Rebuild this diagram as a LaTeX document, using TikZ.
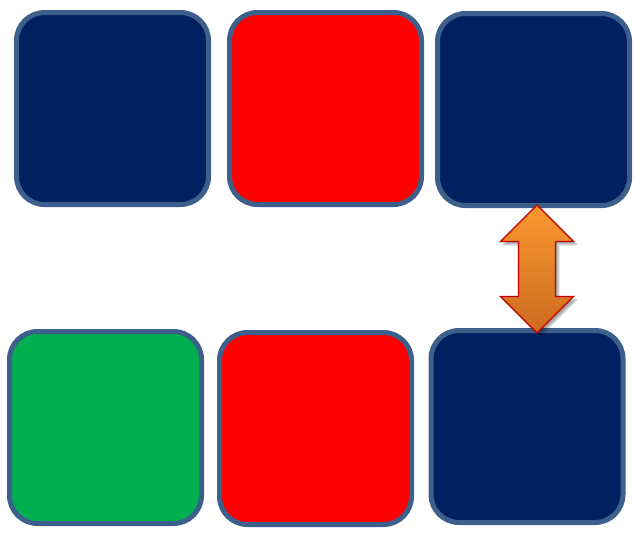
\documentclass[tikz,border=0pt]{standalone}
\usetikzlibrary{shadows.blur}
\definecolor{navy}{HTML}{002060}
\definecolor{bred}{HTML}{FF0000}
\definecolor{bgreen}{HTML}{00B050}
\definecolor{bordr}{HTML}{3D5F8B}
\definecolor{arrtop}{HTML}{FA9830}
\definecolor{arrbot}{HTML}{CD6A1F}
\definecolor{arrline}{HTML}{C00000}
\tikzset{
  tile/.style={draw=bordr, line width=5pt, rounded corners=28pt, minimum width=192pt, minimum height=192pt, inner sep=0pt},
  arrowshape/.style={draw=arrline, line width=1.2pt, line join=miter, top color=arrtop, bottom color=arrbot,
    blur shadow={shadow xshift=3pt, shadow yshift=-3pt, shadow blur steps=8, shadow opacity=35}}
}
\begin{document}
\begin{tikzpicture}[x=1pt,y=-1pt]
\useasboundingbox (0,0) rectangle (634,533);
\node[tile, fill=navy] (a1) at (112.5,108.5) {};
\node[tile, fill=bred] (a2) at (325.5,108.5) {};
\node[tile, fill=navy] (a3) at (533.5,109.5) {};
\node[tile, fill=bgreen] (b1) at (105.5,427.5) {};
\node[tile, fill=bred] (b2) at (315.5,428.5) {};
\node[tile, fill=navy] (b3) at (527,426.5) {};
\coordinate (tt) at (537,205);
\coordinate (tb) at (537,333);
\path[arrowshape] (tt) -- ++(36.5,36.5) -- ++(-18,0) -- ++(0,55) -- ++(18,0)
  -- (tb) -- ++(-36.5,-36.5) -- ++(18,0) -- ++(0,-55) -- ++(-18,0) -- cycle;
\end{tikzpicture}
\end{document}
